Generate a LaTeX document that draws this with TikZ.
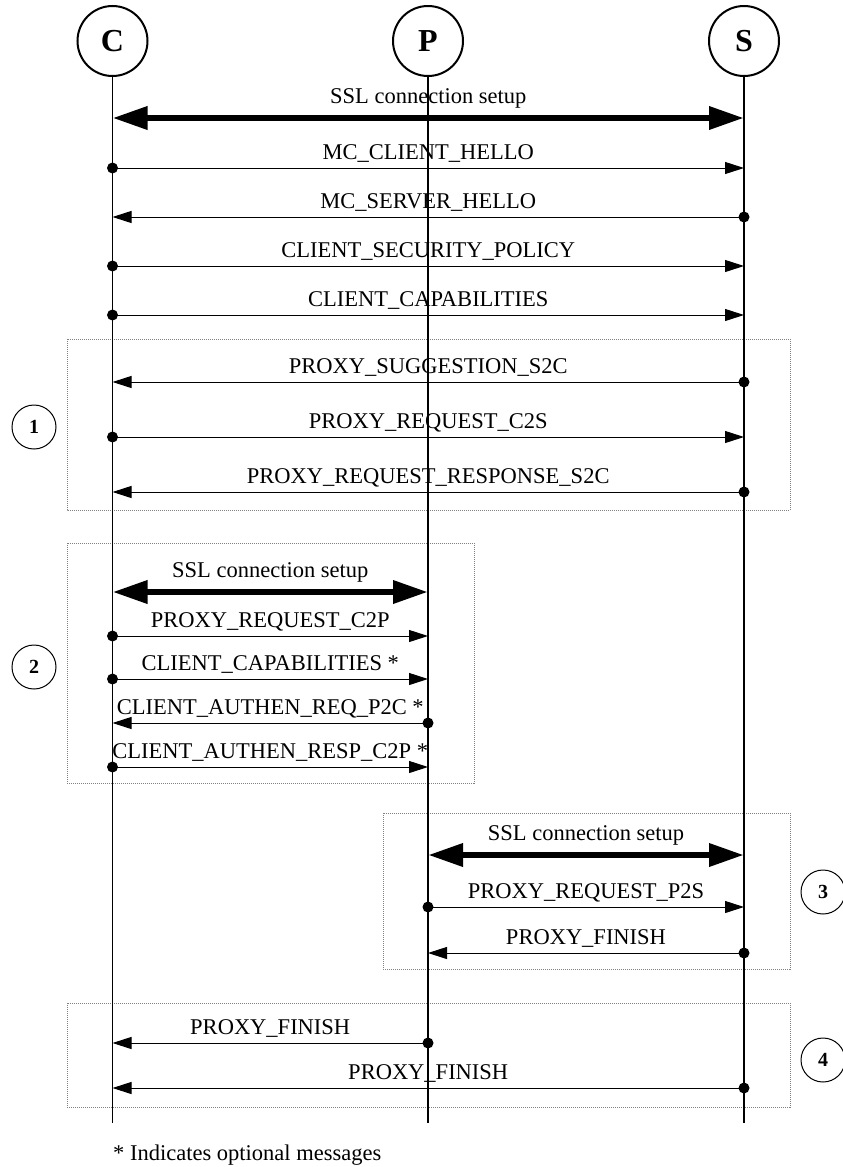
\documentclass[tikz,border=0pt]{standalone}
\usepackage{fontspec}
\setmainfont{Liberation Serif}
\usetikzlibrary{arrows.meta}

\tikzset{
  actor/.style={circle,draw,line width=2pt,minimum size=70pt,inner sep=0pt,
    font=\fontsize{32}{36}\selectfont\bfseries},
  phase/.style={circle,draw,line width=1pt,minimum size=44pt,inner sep=0pt,
    font=\fontsize{20}{24}\selectfont\bfseries},
  life/.style={line width=1.1pt},
  msg/.style={line width=1pt,-{Triangle[length=19pt,width=12pt]}},
  ssl/.style={line width=6.5pt,
    {Triangle[length=35pt,width=22pt]}-{Triangle[length=35pt,width=22pt]}},
  dot/.style={circle,fill,inner sep=0pt,minimum size=11pt},
  lbl/.style={anchor=base,inner sep=0pt,font=\fontsize{22.5}{27}\selectfont},
  grp/.style={gray,densely dotted,line width=1pt},
}

\begin{document}
\begin{tikzpicture}[x=1pt,y=-1pt]
    \useasboundingbox (0,0) rectangle (843,1167);

    % parties
    \node[actor] (C) at (112.5,41) {C};
    \node[actor] (P) at (428,41) {P};
    \node[actor] (S) at (744,41) {S};

    % phase boxes
    \draw[grp] (67,339) rectangle (790,510);
    \draw[grp] (67,543) rectangle (474,783);
    \draw[grp] (383,813) rectangle (790,969);
    \draw[grp] (67,1003) rectangle (790,1107);

    \node[phase] (n1) at (34,427) {1};
    \node[phase] (n2) at (34,667) {2};
    \node[phase] (n3) at (823,892) {3};
    \node[phase] (n4) at (823,1060) {4};

    % life lines
    \foreach \a in {C,P,S}{
      \draw[life] (\a) -- (\a.center |- 0,1123);
     }

    % ssl setups
    \foreach \y/\a/\b in {118/C/S,592/C/P,855/P/S}{
      \draw[ssl] (\a.center |- 0,\y) -- (\b.center |- 0,\y)
        node[lbl,midway,yshift=15pt] (s\y) {SSL connection setup};
     }

    % messages: y / sender / receiver / text
    \foreach \y/\a/\b/\txt in {
        168/C/S/MC\_CLIENT\_HELLO,
        217/S/C/MC\_SERVER\_HELLO,
        266/C/S/CLIENT\_SECURITY\_POLICY,
        315/C/S/CLIENT\_CAPABILITIES,
        382/S/C/PROXY\_SUGGESTION\_S2C,
        437/C/S/PROXY\_REQUEST\_C2S,
        492/S/C/PROXY\_REQUEST\_RESPONSE\_S2C,
        636/C/P/PROXY\_REQUEST\_C2P,
        679/C/P/CLIENT\_CAPABILITIES *,
        723/P/C/CLIENT\_AUTHEN\_REQ\_P2C *,
        767/C/P/CLIENT\_AUTHEN\_RESP\_C2P *,
        907/P/S/PROXY\_REQUEST\_P2S,
        953/S/P/PROXY\_FINISH,
        1043/P/C/PROXY\_FINISH,
        1088/S/C/PROXY\_FINISH}{
      \draw[msg] (\a.center |- 0,\y) node[dot] (d\y) {} -- (\b.center |- 0,\y)
        node[lbl,midway,yshift=9pt] (m\y) {\txt};
     }

    \node[lbl,anchor=base west] (note) at (113,1160) {* Indicates optional messages};
\end{tikzpicture}
\end{document}
